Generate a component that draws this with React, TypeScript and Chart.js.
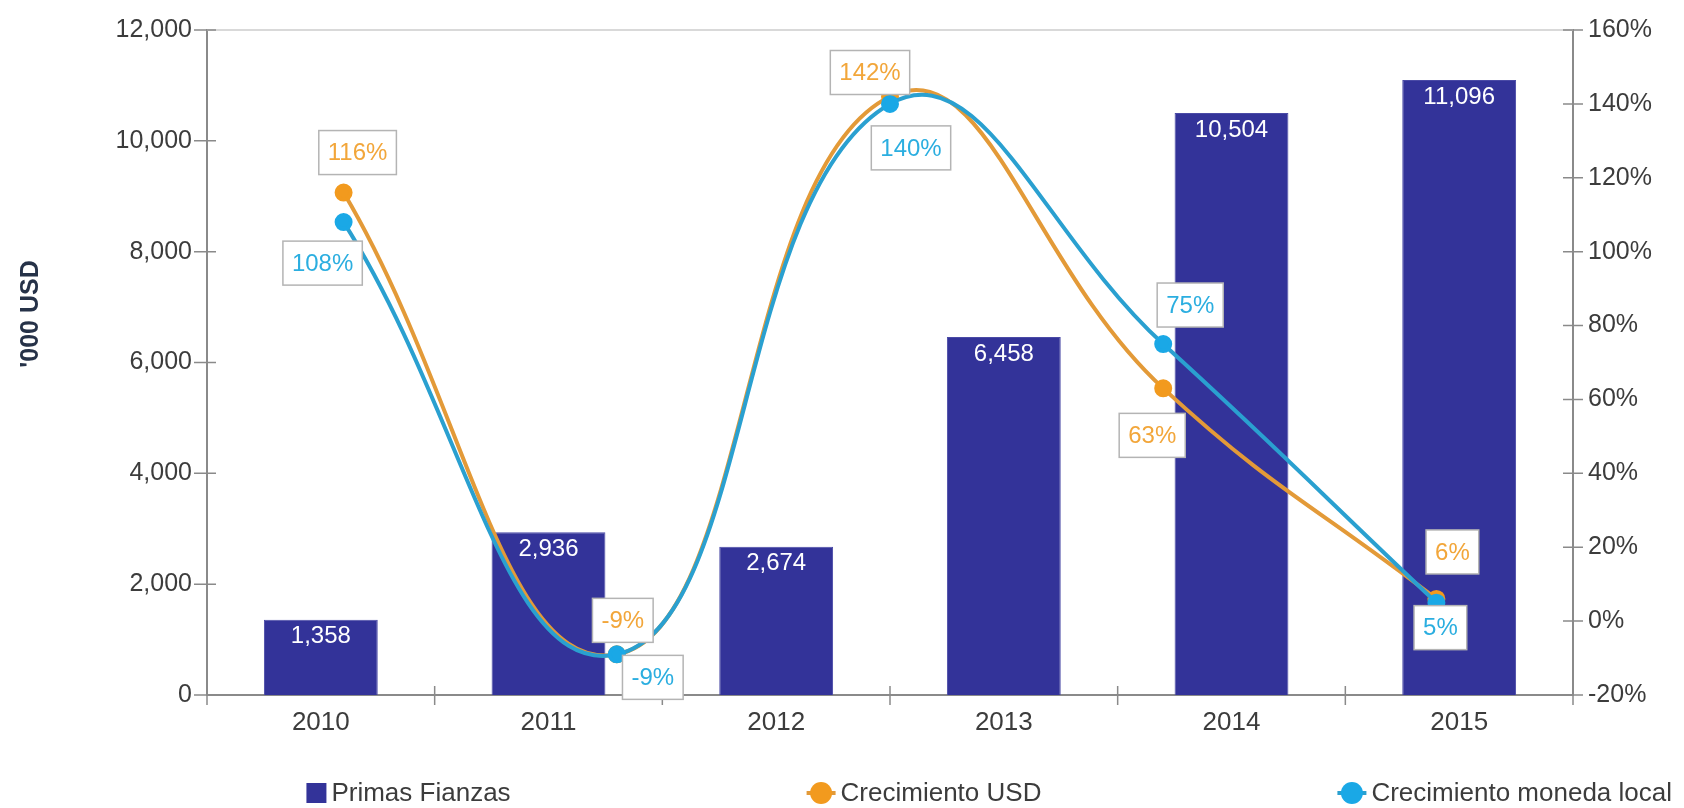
import React, { useEffect, useRef } from 'react';
import { Chart, registerables } from 'chart.js';

Chart.register(...registerables);

// ---- data ----
const years = ['2010', '2011', '2012', '2013', '2014', '2015'];
const growthYears = ['2011', '2012', '2013', '2014', '2015'];
const primasFianzas = [1358, 2936, 2674, 6458, 10504, 11096];
const crecimientoUSD = [116, -9, 142, 63, 6];
const crecimientoLocal = [108, -9, 140, 75, 5];

// ---- style ----
const FONT = '"Liberation Sans", Arial, Helvetica, sans-serif';
const BAR_COLOR = '#333399';
const ORANGE_LINE = '#E39A38';
const ORANGE_POINT = '#F29A1E';
const ORANGE_TEXT = '#F2A63A';
const BLUE_LINE = '#2AA0D0';
const BLUE_POINT = '#1AA8E6';
const BLUE_TEXT = '#2BAEE0';
const AXIS_COLOR = '#8a8a8a';
const TEXT_COLOR = '#3c3c3c';

// label box offsets (dx, dy) from the point, per series
const usdLabelOffsets = [[14, -40], [6, -34], [-20, -24], [-11, 47], [16, -47]];
const localLabelOffsets = [[-21, 41], [36, 23], [21, 44], [27, -39], [4, 25]];

const fmt = (v: number) => String(v).replace(/\B(?=(\d{3})+(?!\d))/g, ',');

const decorPlugin = {
  id: 'decor',
  beforeDatasetsDraw(chart: any) {
    const { ctx, chartArea } = chart;
    const y = chart.scales.y;
    const y1 = chart.scales.y1;
    const x = chart.scales.x;
    ctx.save();
    // top light line
    ctx.strokeStyle = '#d9d9d9';
    ctx.lineWidth = 2;
    ctx.beginPath();
    ctx.moveTo(chartArea.left, chartArea.top);
    ctx.lineTo(chartArea.right, chartArea.top);
    ctx.stroke();
    // ticks
    ctx.strokeStyle = AXIS_COLOR;
    ctx.lineWidth = 1.5;
    ctx.beginPath();
    y.ticks.forEach((t: any) => {
      const py = y.getPixelForValue(t.value);
      ctx.moveTo(chartArea.left - 13, py);
      ctx.lineTo(chartArea.left + 9, py);
    });
    y1.ticks.forEach((t: any) => {
      const py = y1.getPixelForValue(t.value);
      ctx.moveTo(chartArea.right - 10, py);
      ctx.lineTo(chartArea.right + 10, py);
    });
    const n = x.ticks.length;
    const w = (chartArea.right - chartArea.left) / n;
    for (let i = 0; i <= n; i++) {
      const px = chartArea.left + i * w;
      ctx.moveTo(px, chartArea.bottom - 9);
      ctx.lineTo(px, chartArea.bottom + 10);
    }
    ctx.stroke();
    ctx.restore();
  },
  afterDatasetsDraw(chart: any) {
    const { ctx } = chart;
    ctx.save();
    ctx.textAlign = 'center';
    ctx.textBaseline = 'middle';
    ctx.font = `24px ${FONT}`;
    // bar labels
    const barMeta = chart.getDatasetMeta(0);
    ctx.fillStyle = '#ffffff';
    barMeta.data.forEach((el: any, i: number) => {
      ctx.fillText(fmt(chart.data.datasets[0].data[i]), el.x, el.y + 17);
    });
    // line labels
    [1, 2].forEach((di) => {
      const ds = chart.data.datasets[di];
      const meta = chart.getDatasetMeta(di);
      const offs = di === 1 ? usdLabelOffsets : localLabelOffsets;
      const color = di === 1 ? ORANGE_TEXT : BLUE_TEXT;
      meta.data.forEach((pt: any, i: number) => {
        const text = ds.data[i] + '%';
        const w = ctx.measureText(text).width + 18;
        const h = 44;
        const cx = pt.x + offs[i][0];
        const cy = pt.y + offs[i][1];
        ctx.fillStyle = '#ffffff';
        ctx.fillRect(cx - w / 2, cy - h / 2, w, h);
        ctx.strokeStyle = '#b4b4b4';
        ctx.lineWidth = 1.5;
        ctx.strokeRect(cx - w / 2, cy - h / 2, w, h);
        ctx.fillStyle = color;
        ctx.fillText(text, cx, cy + 1);
      });
    });
    ctx.restore();
  },
  afterDraw(chart: any) {
    const { ctx } = chart;
    ctx.save();
    // y-axis title
    ctx.translate(31, 314);
    ctx.rotate(-Math.PI / 2);
    ctx.font = `bold 25px ${FONT}`;
    ctx.fillStyle = '#263248';
    ctx.textAlign = 'center';
    ctx.textBaseline = 'middle';
    ctx.fillText("'000 USD", 0, 0);
    ctx.restore();

    // legend
    ctx.save();
    ctx.font = `26px ${FONT}`;
    ctx.textBaseline = 'middle';
    ctx.textAlign = 'left';
    const items = chart.data.datasets.map((ds: any, i: number) => ({
      text: ds.label,
      kind: i === 0 ? 'box' : 'line',
      color: i === 0 ? ds.backgroundColor : ds.pointBackgroundColor,
      lineColor: ds.borderColor,
    }));
    const gap = 296;
    const widths = items.map((it: any) => (it.kind === 'box' ? 25 : 34) + ctx.measureText(it.text).width);
    const total = widths.reduce((a: number, b: number) => a + b, 0) + gap * (items.length - 1);
    let x = 1672 - total;
    const ly = 793;
    items.forEach((it: any, i: number) => {
      if (it.kind === 'box') {
        ctx.fillStyle = it.color;
        ctx.fillRect(x, ly - 10, 20, 20);
        ctx.fillStyle = TEXT_COLOR;
        ctx.fillText(it.text, x + 25, ly + 1);
      } else {
        ctx.strokeStyle = it.lineColor;
        ctx.lineWidth = 4;
        ctx.beginPath();
        ctx.moveTo(x, ly);
        ctx.lineTo(x + 29, ly);
        ctx.stroke();
        ctx.fillStyle = it.color;
        ctx.beginPath();
        ctx.arc(x + 14.5, ly, 11, 0, Math.PI * 2);
        ctx.fill();
        ctx.fillStyle = TEXT_COLOR;
        ctx.fillText(it.text, x + 34, ly + 1);
      }
      x += widths[i] + gap;
    });
    ctx.restore();
  },
};

export default function App() {
  const ref = useRef<HTMLCanvasElement | null>(null);

  useEffect(() => {
    if (!ref.current) return;
    const chart = new Chart(ref.current, {
      type: 'bar',
      data: {
        labels: years,
        datasets: [
          {
            type: 'bar',
            label: 'Primas Fianzas',
            data: primasFianzas,
            backgroundColor: BAR_COLOR,
            borderColor: '#4a4aa6',
            borderWidth: 1,
            grouped: false,
            barPercentage: 0.5,
            categoryPercentage: 1,
            xAxisID: 'x',
            yAxisID: 'y',
            order: 3,
          } as any,
          {
            type: 'line',
            label: 'Crecimiento USD',
            data: crecimientoUSD,
            borderColor: ORANGE_LINE,
            borderWidth: 4,
            pointBackgroundColor: ORANGE_POINT,
            pointBorderColor: ORANGE_POINT,
            pointRadius: 7,
            tension: 0.45,
            fill: false,
            xAxisID: 'x2',
            yAxisID: 'y1',
            order: 2,
          } as any,
          {
            type: 'line',
            label: 'Crecimiento moneda local',
            data: crecimientoLocal,
            borderColor: BLUE_LINE,
            borderWidth: 4,
            pointBackgroundColor: BLUE_POINT,
            pointBorderColor: BLUE_POINT,
            pointRadius: 7,
            tension: 0.45,
            fill: false,
            xAxisID: 'x2',
            yAxisID: 'y1',
            order: 1,
          } as any,
        ],
      },
      options: {
        responsive: false,
        animation: false,
        devicePixelRatio: 1,
        layout: { padding: { top: 22, bottom: 70, left: 0, right: 0 } },
        plugins: {
          legend: { display: false },
          tooltip: { enabled: false },
        },
        scales: {
          x: {
            type: 'category',
            position: 'bottom',
            offset: true,
            grid: { display: false, drawTicks: false, tickLength: 0 },
            border: { display: true, color: AXIS_COLOR, width: 2 },
            ticks: { color: TEXT_COLOR, font: { family: FONT, size: 26 }, padding: 12 },
            afterFit: (s: any) => { s.height = 43; },
          },
          x2: {
            type: 'category',
            labels: growthYears,
            offset: true,
            display: false,
          },
          y: {
            type: 'linear',
            position: 'left',
            min: 0,
            max: 12000,
            grid: { display: false, drawTicks: false, tickLength: 0 },
            border: { display: true, color: AXIS_COLOR, width: 2 },
            ticks: {
              stepSize: 2000,
              color: TEXT_COLOR,
              font: { family: FONT, size: 25 },
              padding: 15,
              callback: (v: any) => fmt(Number(v)),
            },
            afterFit: (s: any) => { s.width = 207; },
          },
          y1: {
            type: 'linear',
            position: 'right',
            min: -20,
            max: 160,
            grid: { display: false, drawTicks: false, tickLength: 0 },
            border: { display: true, color: AXIS_COLOR, width: 2 },
            ticks: {
              stepSize: 20,
              color: TEXT_COLOR,
              font: { family: FONT, size: 25 },
              padding: 15,
              callback: (v: any) => v + '%',
            },
            afterFit: (s: any) => { s.width = 111; },
          },
        },
      } as any,
      plugins: [decorPlugin],
    });
    return () => chart.destroy();
  }, []);

  return (
    <div style={{ position: 'fixed', left: 0, top: 0, width: 1684, height: 808, background: '#fff' }}>
      <canvas ref={ref} width={1684} height={808} style={{ display: 'block', width: 1684, height: 808 }} />
    </div>
  );
}
